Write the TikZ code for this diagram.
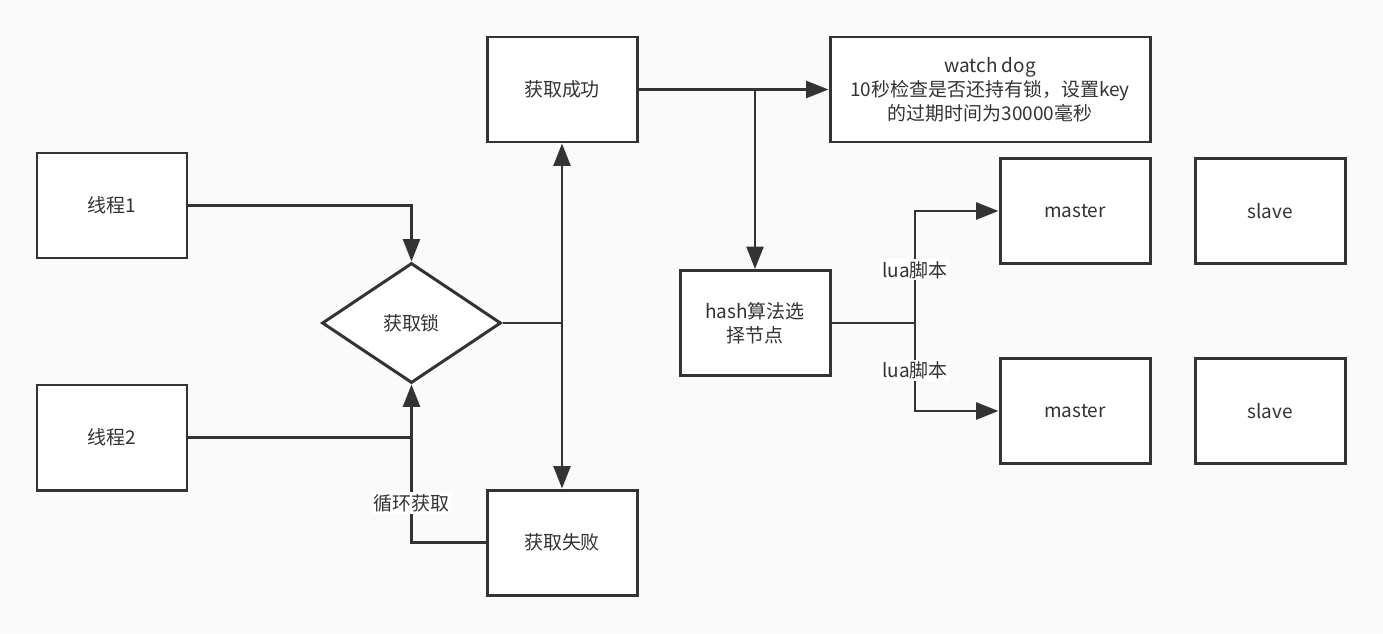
\documentclass[tikz,border=0pt]{standalone}
\usepackage{fontspec}
\setmainfont{Noto Sans CJK SC}
\usepackage{tikz}
\usetikzlibrary{positioning,shapes.geometric,arrows.meta}
\definecolor{ln}{HTML}{333333}
\definecolor{bg}{HTML}{FAFAFA}

\begin{document}
\begin{tikzpicture}[
  every node/.style = {font=\fontsize{10.8pt}{13.6pt}\selectfont, text=ln},
  %% box styles
  pbox/.style  = {rectangle, draw=ln, line width=1.7pt, fill=white,
                  align=center, minimum width=3.0cm, minimum height=2.1cm,
                  inner sep=3pt},
  wbox/.style  = {pbox, minimum width=6.4cm},
  cond/.style  = {diamond, draw=ln, line width=1.7pt, fill=white,
                  minimum width=3.58cm, minimum height=2.4cm, inner sep=0pt},
  lbl/.style   = {fill=white, inner sep=1pt},
  %% arrows
  line/.style  = {draw=ln, line width=1.5pt},
  arr/.style   = {line, -{Triangle[length=4.5mm, width=3.4mm]}}
]

%% ---- background / bounding box ----
\fill[bg] (0,0) rectangle (27.66,12.66);
\useasboundingbox (0,0) rectangle (27.66,12.66);

%% ---- Nodes ----
\node[pbox] (T1)   at (2.24,8.55)  {线程1};
\node[pbox] (T2)   at (2.24,3.91)  {线程2};
\node[cond] (LOCK) at (8.23,6.20)  {获取锁};
\node[pbox] (OK)   at (11.24,10.87) {获取成功};
\node[pbox] (FAIL) at (11.24,1.81) {获取失败};
\node[wbox] (WD)   at (19.80,10.87)
  {watch dog\\10秒检查是否还持有锁，设置key\\的过期时间为30000毫秒};
\node[pbox] (HASH) at (15.10,6.20) {hash算法选\\择节点};
\node[pbox] (M1)   at (21.50,8.44) {master};
\node[pbox] (S1)   at (25.40,8.44) {slave};
\node[pbox] (M2)   at (21.50,4.44) {master};
\node[pbox] (S2)   at (25.40,4.44) {slave};

%% ---- junctions ----
\coordinate (J1) at (LOCK.east -| OK.south);
\coordinate (J2) at (OK.east -| HASH.north);
\coordinate (J3) at (18.30,6.20);

%% ---- Arrows ----
\draw[arr]  (T1.east) -| (LOCK.north);
\draw[line] (T2.east) -- (T2.east -| LOCK.south);
\draw[arr]  (FAIL.west) -| node[lbl, pos=0.625] {循环获取} (LOCK.south);
\draw[line] (LOCK.east) -- (J1);
\draw[arr]  (J1) -- (OK.south);
\draw[arr]  (J1) -- (FAIL.north);
\draw[arr]  (OK.east) -- (WD.west);
\draw[arr]  (J2) -- (HASH.north);
\draw[line] (HASH.east) -- (J3);
\draw[arr]  (J3) |- node[lbl, pos=0.237] {lua脚本} (M1.west);
\draw[arr]  (J3) |- node[lbl, pos=0.27] {lua脚本} (M2.west);

\end{tikzpicture}
\end{document}
